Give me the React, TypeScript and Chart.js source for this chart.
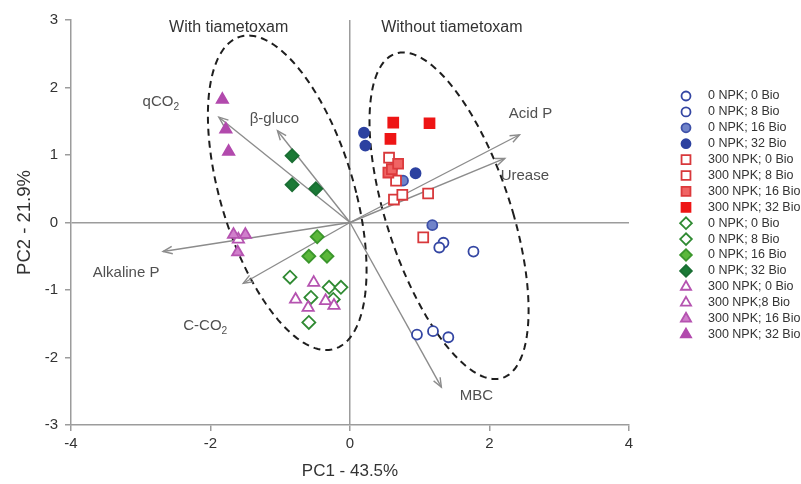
import React, { useEffect, useRef } from "react";
import { Chart, registerables } from "chart.js";
import { drawPoint } from "chart.js/helpers";

Chart.register(...registerables);

// Treatments (legend order)
const treatmentLabels = [
  "0 NPK; 0 Bio",
  "0 NPK; 8 Bio",
  "0 NPK; 16 Bio",
  "0 NPK; 32 Bio",
  "300 NPK; 0 Bio",
  "300 NPK; 8 Bio",
  "300 NPK; 16 Bio",
  "300 NPK; 32 Bio",
  "0 NPK; 0 Bio",
  "0 NPK; 8 Bio",
  "0 NPK; 16 Bio",
  "0 NPK; 32 Bio",
  "300 NPK; 0 Bio",
  "300 NPK;8 Bio",
  "300 NPK; 16 Bio",
  "300 NPK; 32 Bio",
];

// PC1 scores, three replicates per treatment
const pc1Scores = [
  [0.96, 1.19, 1.41],
  [1.34, 1.28, 1.77],
  [1.18, 0.76, 0.6],
  [0.2, 0.22, 0.94],
  [0.63, 1.12, 1.05],
  [0.56, 0.66, 0.75],
  [0.55, 0.6, 0.69],
  [0.62, 1.14, 0.58],
  [-0.86, -0.56, -0.59],
  [-0.3, -0.13, -0.24],
  [-0.47, -0.59, -0.33],
  [-0.83, -0.83, -0.49],
  [-0.52, -0.78, -0.6],
  [-0.35, -0.23, -1.6],
  [-1.67, -1.5, -1.61],
  [-1.83, -1.78, -1.74],
];

// PC2 scores, three replicates per treatment
const pc2Scores = [
  [-1.66, -1.61, -1.7],
  [-0.3, -0.37, -0.43],
  [-0.04, 0.62, 0.79],
  [1.33, 1.14, 0.73],
  [0.34, 0.43, -0.22],
  [0.96, 0.62, 0.41],
  [0.74, 0.79, 0.87],
  [1.48, 1.47, 1.24],
  [-0.81, -1.11, -1.48],
  [-0.96, -0.96, -1.14],
  [-0.21, -0.5, -0.5],
  [0.99, 0.56, 0.5],
  [-0.89, -1.14, -1.26],
  [-1.16, -1.23, -0.25],
  [-0.18, -0.18, -0.44],
  [1.82, 1.38, 1.05],
];

// Variable loadings (biplot vectors)
const variableNames = ["qCO_2", "β-gluco", "Acid P", "Urease", "Alkaline P", "C-CO_2", "MBC"];
const loadingPC1 = [-1.88, -1.04, 2.43, 2.22, -2.68, -1.53, 1.31];
const loadingPC2 = [1.56, 1.36, 1.3, 0.95, -0.43, -0.9, -2.44];

// Group ellipses: centre, horizontal half-chord and conjugate half-diameter
const groupNames = ["With tiametoxam", "Without tiametoxam"];
const ellipseCenterX = [-0.9, 1.42];
const ellipseCenterY = [0.44, 0.1];
const ellipseHalfWidth = [0.99, 0.93];
const ellipseConjX = [-0.56, -0.66];
const ellipseConjY = [2.33, 2.42];

// Axis ranges
const xTicksRange = { min: -4, max: 4, step: 2 };
const yTicksRange = { min: -3, max: 3, step: 1 };

const FONT = "'Liberation Sans', Arial, Helvetica, sans-serif";
const AXIS_GREY = "#9c9c9c";
const TEXT = "#333333";

// Marker styling per treatment
const BLUE = "#3446a3";
const RED = "#d8383b";
const GREEN = "#2f8a32";
const MAGENTA = "#b553b0";
const markerStyle = [
  { shape: "circle", r: 5, border: BLUE, fill: "#ffffff" },
  { shape: "circle", r: 5, border: BLUE, fill: "#ffffff" },
  { shape: "circle", r: 5, border: "#3d50a8", fill: "#7083c9" },
  { shape: "circle", r: 5, border: "#2c41a0", fill: "#2c41a0" },
  { shape: "rect", r: 7, border: RED, fill: "#ffffff" },
  { shape: "rect", r: 7, border: RED, fill: "#ffffff" },
  { shape: "rect", r: 7, border: "#dc3a3c", fill: "#f06464" },
  { shape: "rect", r: 7, border: "#ee1515", fill: "#ee1515" },
  { shape: "rectRot", r: 6.5, border: GREEN, fill: "#ffffff" },
  { shape: "rectRot", r: 6.5, border: GREEN, fill: "#ffffff" },
  { shape: "rectRot", r: 6.5, border: "#3b962c", fill: "#5cb83b" },
  { shape: "rectRot", r: 6.5, border: "#1a6e33", fill: "#1b7a36" },
  { shape: "triangle", r: 6.5, border: MAGENTA, fill: "#ffffff" },
  { shape: "triangle", r: 6.5, border: MAGENTA, fill: "#ffffff" },
  { shape: "triangle", r: 6.5, border: "#b553b0", fill: "#d07fcb" },
  { shape: "triangle", r: 6.5, border: "#b24aad", fill: "#b24aad" },
];

// Label placement for the loading vectors, pixel offset from arrow tip
const vectorLabelOffset: Record<string, [number, number]> = {
  "qCO_2": [-58, -15],
  "β-gluco": [-3, -12],
  "Acid P": [11, -21],
  "Urease": [20, 17],
  "Alkaline P": [-37, 21],
  "C-CO_2": [-38, 43],
  "MBC": [35, 9],
};

// Group captions, placed in data units
const groupCaptionPos = [
  { x: -1.74, y: 2.89 },
  { x: 1.46, y: 2.89 },
];

const LEGEND = { markerX: 686, textX: 708, top: 96, step: 15.9 };

function drawSubText(ctx: CanvasRenderingContext2D, text: string, cx: number, cy: number, size: number) {
  const parts = text.split("_");
  const base = parts[0];
  const sub = parts[1] || "";
  ctx.font = `${size}px ${FONT}`;
  const wBase = ctx.measureText(base).width;
  ctx.font = `${size * 0.68}px ${FONT}`;
  const wSub = ctx.measureText(sub).width;
  const total = wBase + wSub;
  const x0 = cx - total / 2;
  ctx.textAlign = "left";
  ctx.textBaseline = "middle";
  ctx.font = `${size}px ${FONT}`;
  ctx.fillText(base, x0, cy);
  if (sub) {
    ctx.font = `${size * 0.68}px ${FONT}`;
    ctx.fillText(sub, x0 + wBase, cy + size * 0.32);
  }
}

const biplotPlugin = {
  id: "biplotOverlay",
  beforeDatasetsDraw(chart: any) {
    const ctx: CanvasRenderingContext2D = chart.ctx;
    const xs = chart.scales.x;
    const ys = chart.scales.y;
    const px = (v: number) => xs.getPixelForValue(v);
    const py = (v: number) => ys.getPixelForValue(v);
    ctx.save();

    // dashed group ellipses
    ctx.strokeStyle = "#1e1e1e";
    ctx.lineWidth = 2;
    ctx.setLineDash([7, 5]);
    for (let g = 0; g < groupNames.length; g++) {
      ctx.beginPath();
      const n = 160;
      for (let k = 0; k <= n; k++) {
        const t = (k / n) * Math.PI * 2;
        const dx = ellipseCenterX[g] + Math.cos(t) * ellipseHalfWidth[g] + Math.sin(t) * ellipseConjX[g];
        const dy = ellipseCenterY[g] + Math.sin(t) * ellipseConjY[g];
        if (k === 0) ctx.moveTo(px(dx), py(dy));
        else ctx.lineTo(px(dx), py(dy));
      }
      ctx.closePath();
      ctx.stroke();
    }
    ctx.setLineDash([]);

    // loading vectors
    const ox = px(0);
    const oy = py(0);
    ctx.strokeStyle = "#8c8c8c";
    ctx.lineWidth = 1.4;
    for (let i = 0; i < variableNames.length; i++) {
      const tx = px(loadingPC1[i]);
      const ty = py(loadingPC2[i]);
      ctx.beginPath();
      ctx.moveTo(ox, oy);
      ctx.lineTo(tx, ty);
      ctx.stroke();
      const ang = Math.atan2(ty - oy, tx - ox);
      const hl = 10;
      const spread = 0.38;
      ctx.beginPath();
      ctx.moveTo(tx - hl * Math.cos(ang - spread), ty - hl * Math.sin(ang - spread));
      ctx.lineTo(tx, ty);
      ctx.lineTo(tx - hl * Math.cos(ang + spread), ty - hl * Math.sin(ang + spread));
      ctx.stroke();

      const off = vectorLabelOffset[variableNames[i]] || [0, 0];
      ctx.fillStyle = "#505050";
      drawSubText(ctx, variableNames[i], tx + off[0], ty + off[1], 15);
    }

    // group captions
    ctx.fillStyle = TEXT;
    ctx.font = `16px ${FONT}`;
    ctx.textAlign = "center";
    ctx.textBaseline = "middle";
    groupNames.forEach((name, g) => {
      ctx.fillText(name, px(groupCaptionPos[g].x), py(groupCaptionPos[g].y));
    });
    ctx.restore();
  },
  afterDraw(chart: any) {
    const ctx: CanvasRenderingContext2D = chart.ctx;
    ctx.save();
    chart.data.datasets.forEach((ds: any, i: number) => {
      const y = LEGEND.top + i * LEGEND.step;
      ctx.fillStyle = ds.pointBackgroundColor;
      ctx.strokeStyle = ds.pointBorderColor;
      ctx.lineWidth = ds.pointBorderWidth;
      drawPoint(
        ctx,
        { pointStyle: ds.pointStyle, rotation: 0, radius: ds.pointRadius * 0.9, borderWidth: ds.pointBorderWidth },
        LEGEND.markerX,
        y
      );
      ctx.fillStyle = TEXT;
      ctx.font = `12.5px ${FONT}`;
      ctx.textAlign = "left";
      ctx.textBaseline = "middle";
      ctx.fillText(ds.label, LEGEND.textX, y);
    });
    ctx.restore();
  },
};

export default function App() {
  const canvasRef = useRef<HTMLCanvasElement | null>(null);

  useEffect(() => {
    document.body.style.margin = "0";
    const canvas = canvasRef.current;
    if (!canvas) return;

    // later series are painted over earlier ones
    const datasets = treatmentLabels.map((label, i) => ({
      label,
      order: treatmentLabels.length - i,
      data: pc1Scores[i].map((x, k) => ({ x, y: pc2Scores[i][k] })),
      pointStyle: markerStyle[i].shape,
      pointRadius: markerStyle[i].r,
      pointHoverRadius: markerStyle[i].r,
      pointBorderWidth: 1.8,
      pointBorderColor: markerStyle[i].border,
      pointBackgroundColor: markerStyle[i].fill,
      showLine: false,
    }));

    const zeroLine = (c: any) => (c.tick && c.tick.value === 0 ? AXIS_GREY : "rgba(0,0,0,0)");

    const chart = new Chart(canvas, {
      type: "scatter",
      data: { datasets },
      options: {
        animation: false,
        responsive: false,
        devicePixelRatio: 1,
        layout: { padding: { top: 20, right: 172, left: 0, bottom: 0 } },
        plugins: {
          legend: { display: false },
          tooltip: { enabled: false },
        },
        scales: {
          x: {
            type: "linear",
            min: xTicksRange.min,
            max: xTicksRange.max,
            ticks: {
              stepSize: xTicksRange.step,
              color: TEXT,
              font: { family: FONT, size: 15 },
              padding: 4,
            },
            grid: {
              color: zeroLine,
              tickColor: AXIS_GREY,
              lineWidth: 1.5,
              tickLength: 6,
            },
            border: { color: AXIS_GREY, width: 1.5 },
            title: {
              display: true,
              text: "PC1 - 43.5%",
              color: TEXT,
              font: { family: FONT, size: 17 },
              padding: { top: 0, bottom: 2 },
            },
            afterFit: (s: any) => {
              s.height = 59;
            },
          },
          y: {
            type: "linear",
            min: yTicksRange.min,
            max: yTicksRange.max,
            ticks: {
              stepSize: yTicksRange.step,
              color: TEXT,
              font: { family: FONT, size: 15 },
              padding: 7,
            },
            grid: {
              color: zeroLine,
              tickColor: AXIS_GREY,
              lineWidth: 1.5,
              tickLength: 6,
            },
            border: { color: AXIS_GREY, width: 1.5 },
            title: {
              display: true,
              text: "PC2 - 21.9%",
              color: TEXT,
              font: { family: FONT, size: 18.5 },
              padding: { top: 14, bottom: 0 },
            },
            afterFit: (s: any) => {
              s.width = 71;
            },
          },
        },
      },
      plugins: [biplotPlugin],
    } as any);

    return () => {
      chart.destroy();
    };
  }, []);

  return (
    <div style={{ position: "absolute", left: 0, top: 0, width: 801, height: 484, background: "#ffffff" }}>
      <canvas ref={canvasRef} width={801} height={484} style={{ display: "block" }} />
    </div>
  );
}
